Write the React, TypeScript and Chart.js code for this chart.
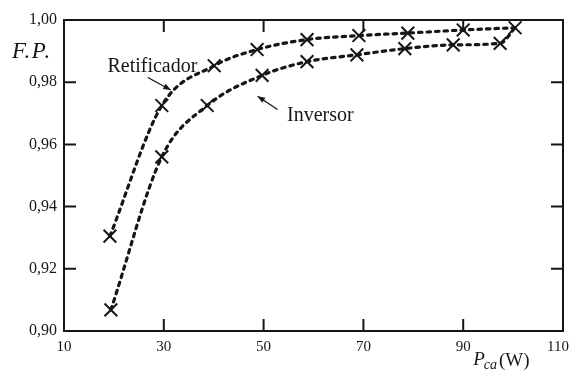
import React, { useEffect, useRef } from "react";
import { Chart, registerables } from "chart.js";

Chart.register(...registerables);

const retificadorX = [19.2, 29.6, 40.1, 48.7, 58.7, 69.1, 78.9, 90.0, 100.4];
const retificadorY = [0.9305, 0.9725, 0.9853, 0.9905, 0.9937, 0.9950, 0.9958, 0.9968, 0.9975];
const inversorX = [19.4, 29.6, 38.7, 49.7, 58.7, 68.7, 78.3, 88.0, 97.4, 100.4];
const inversorY = [0.9068, 0.9560, 0.9725, 0.9822, 0.9866, 0.9888, 0.9908, 0.9920, 0.9925, 0.9975];
const inversorMarks = [true, true, true, true, true, true, true, true, true, false];
const xTicks = [10, 30, 50, 70, 90, 110];
const yTicks = [0.90, 0.92, 0.94, 0.96, 0.98, 1.00];
const labelRetificador = "Retificador";
const labelInversor = "Inversor";
const yTitle = "F.P.";
const xTitleMain = "P";
const xTitleSub = "ca";
const xTitleUnit = "(W)";

const INK = "#161616";
const SERIF = "'Liberation Serif', 'DejaVu Serif', serif";

function arrow(ctx: CanvasRenderingContext2D, x1: number, y1: number, x2: number, y2: number) {
  ctx.beginPath();
  ctx.moveTo(x1, y1);
  ctx.lineTo(x2, y2);
  ctx.stroke();
  const a = Math.atan2(y2 - y1, x2 - x1);
  const L = 8;
  ctx.beginPath();
  ctx.moveTo(x2, y2);
  ctx.lineTo(x2 - L * Math.cos(a - 0.38), y2 - L * Math.sin(a - 0.38));
  ctx.lineTo(x2 - L * Math.cos(a + 0.38), y2 - L * Math.sin(a + 0.38));
  ctx.closePath();
  ctx.fill();
}

const decorPlugin = {
  id: "decor",
  afterDraw(chart: any) {
    const ctx: CanvasRenderingContext2D = chart.ctx;
    const xs = chart.scales.x;
    const ys = chart.scales.y;
    const { left, right, top, bottom } = chart.chartArea;
    ctx.save();
    ctx.strokeStyle = INK;
    ctx.fillStyle = INK;
    ctx.lineWidth = 2;
    ctx.setLineDash([]);
    ctx.strokeRect(left, top, right - left, bottom - top);
    const T = 12;
    ctx.font = `15px ${SERIF}`;
    ctx.textAlign = "center";
    ctx.textBaseline = "middle";
    xTicks.forEach((v) => {
      const px = xs.getPixelForValue(v);
      ctx.fillText(String(v), v === xTicks[xTicks.length - 1] ? px - 5 : px, bottom + 16);
      if (v <= xTicks[0] || v >= xTicks[xTicks.length - 1]) return;
      ctx.beginPath();
      ctx.moveTo(px, bottom);
      ctx.lineTo(px, bottom - T);
      ctx.moveTo(px, top);
      ctx.lineTo(px, top + T);
      ctx.stroke();
    });
    yTicks.forEach((v) => {
      if (v <= yTicks[0] + 1e-9 || v >= yTicks[yTicks.length - 1] - 1e-9) return;
      const py = ys.getPixelForValue(v);
      ctx.beginPath();
      ctx.moveTo(left, py);
      ctx.lineTo(left + T, py);
      ctx.moveTo(right, py);
      ctx.lineTo(right - T, py);
      ctx.stroke();
    });
    ctx.font = `20px ${SERIF}`;
    ctx.textBaseline = "alphabetic";
    ctx.textAlign = "left";
    ctx.fillText(labelRetificador, xs.getPixelForValue(18.7), ys.getPixelForValue(0.9833));
    ctx.fillText(labelInversor, xs.getPixelForValue(54.7), ys.getPixelForValue(0.9674));
    ctx.lineWidth = 1.3;
    arrow(ctx, xs.getPixelForValue(26.8), ys.getPixelForValue(0.9815), xs.getPixelForValue(31.4), ys.getPixelForValue(0.9775));
    arrow(ctx, xs.getPixelForValue(52.8), ys.getPixelForValue(0.9712), xs.getPixelForValue(48.8), ys.getPixelForValue(0.9755));
    ctx.font = `italic 23px ${SERIF}`;
    (ctx as any).letterSpacing = "1.5px";
    ctx.fillText(yTitle, left - 52, top + 38);
    (ctx as any).letterSpacing = "0px";
    const bx = xs.getPixelForValue(92.0);
    ctx.font = `italic 19px ${SERIF}`;
    ctx.fillText(xTitleMain, bx, 365);
    const pw = ctx.measureText(xTitleMain).width;
    ctx.font = `italic 14px ${SERIF}`;
    ctx.fillText(xTitleSub, bx + pw - 1, 369);
    const sw = ctx.measureText(xTitleSub).width;
    ctx.font = `19px ${SERIF}`;
    ctx.fillText(xTitleUnit, bx + pw + sw + 1, 366);
    ctx.restore();
  },
};

export default function App() {
  const ref = useRef<HTMLCanvasElement | null>(null);
  useEffect(() => {
    if (!ref.current) return;
    const lineStyle = {
      showLine: true,
      borderColor: INK,
      borderWidth: 3.2,
      borderDash: [3.5, 5],
      borderCapStyle: "round" as const,
      tension: 0.4,
      cubicInterpolationMode: "monotone" as const,
      pointStyle: "crossRot" as const,
      pointBorderColor: INK,
      pointBackgroundColor: INK,
      pointBorderWidth: 2,
      fill: false,
      clip: false as const,
    };
    const chart = new Chart(ref.current, {
      type: "scatter",
      data: {
        datasets: [
          {
            label: labelRetificador,
            data: retificadorX.map((x, i) => ({ x, y: retificadorY[i] })),
            ...lineStyle,
            pointRadius: 9,
          },
          {
            label: labelInversor,
            data: inversorX.map((x, i) => ({ x, y: inversorY[i] })),
            ...lineStyle,
            pointRadius: inversorMarks.map((m) => (m ? 9 : 0)),
          },
        ],
      },
      options: {
        animation: false,
        responsive: false,
        devicePixelRatio: 1,
        layout: { autoPadding: false, padding: { top: 20, right: 6, left: 0, bottom: 0 } },
        plugins: { legend: { display: false }, tooltip: { enabled: false } },
        scales: {
          x: {
            type: "linear",
            min: 10,
            max: 110,
            afterBuildTicks: (s: any) => {
              s.ticks = xTicks.map((v) => ({ value: v }));
            },
            afterFit: (s: any) => {
              s.height = 39;
              s.paddingRight = 0;
              s.paddingLeft = 0;
            },
            grid: { display: false, drawTicks: false },
            border: { display: false },
            ticks: { display: false },
          },
          y: {
            type: "linear",
            min: 0.9,
            max: 1.0,
            afterBuildTicks: (s: any) => {
              s.ticks = yTicks.map((v) => ({ value: v }));
            },
            afterFit: (s: any) => {
              s.width = 64;
              s.paddingTop = 0;
              s.paddingBottom = 0;
            },
            grid: { display: false, drawTicks: false },
            border: { display: false },
            ticks: {
              color: INK,
              font: { family: SERIF, size: 16 },
              padding: 7,
              callback: (v: any) => Number(v).toFixed(2).replace(".", ","),
            },
          },
        },
      },
      plugins: [decorPlugin],
    });
    return () => chart.destroy();
  }, []);
  return (
    <div style={{ position: "fixed", left: 0, top: 0, width: 569, height: 370, background: "#fff" }}>
      <canvas ref={ref} width={569} height={370} style={{ width: 569, height: 370, display: "block" }} />
    </div>
  );
}
